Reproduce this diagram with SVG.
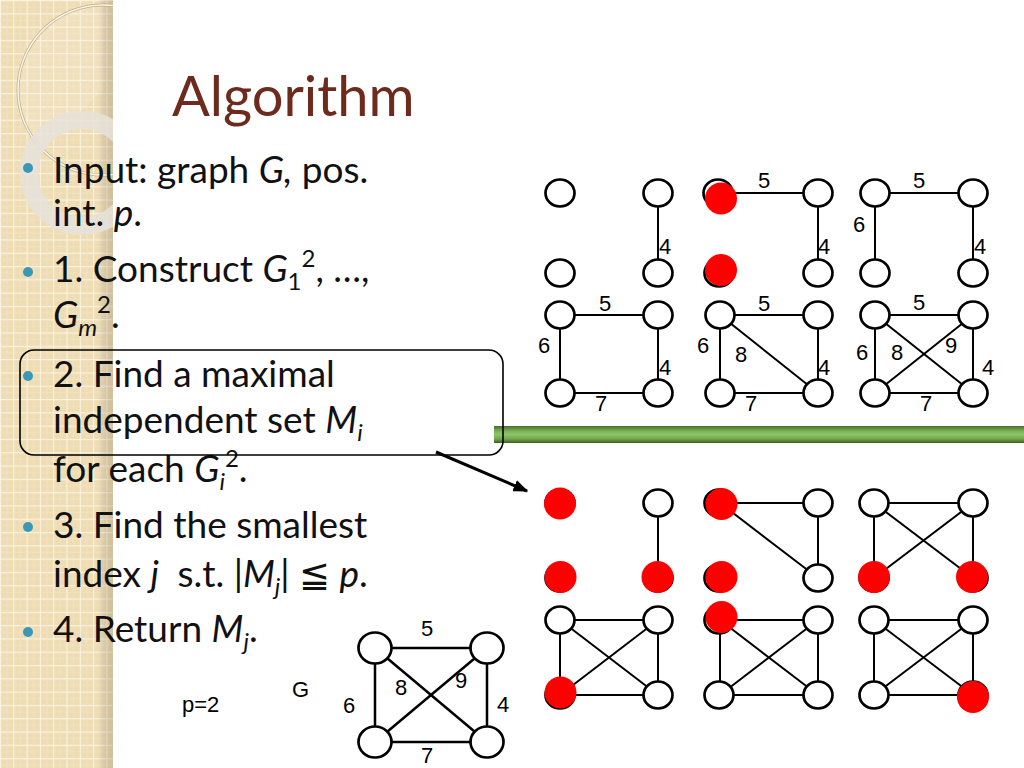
<svg xmlns="http://www.w3.org/2000/svg" width="1024" height="768" viewBox="0 0 1024 768">
<defs>
<pattern id="grid" x="0" y="0" width="13.3" height="13.3" patternUnits="userSpaceOnUse">
<rect width="13.3" height="13.3" fill="#eedcb3"/>
<path d="M0 0.5H13.3M0.5 0V13.3" stroke="#fbf3e2" stroke-width="1.2"/>
<path d="M0 7H13.3M7 0V13.3" stroke="#f4e6c8" stroke-width="0.6"/>
</pattern>
<linearGradient id="shade" x1="0" y1="0" x2="1" y2="0">
<stop offset="0" stop-color="#000" stop-opacity="0"/>
<stop offset="1" stop-color="#7a6a4a" stop-opacity="0.25"/>
</linearGradient>
<linearGradient id="bar" x1="0" y1="0" x2="0" y2="1">
<stop offset="0" stop-color="#4a6b2b"/>
<stop offset="0.3" stop-color="#7db257"/>
<stop offset="0.5" stop-color="#8cc565"/>
<stop offset="0.75" stop-color="#74a84f"/>
<stop offset="1" stop-color="#3d5e24"/>
</linearGradient>
<clipPath id="panelClip"><rect x="0" y="0" width="113" height="768"/></clipPath>
<marker id="arr" viewBox="0 0 10 8" refX="9" refY="4" markerWidth="5" markerHeight="4" orient="auto" markerUnits="strokeWidth">
<path d="M0 0L10 4L0 8z" fill="#000"/>
</marker>
</defs>
<style>
.t{font-family:Lato,"Open Sans","Liberation Sans",sans-serif;font-size:37px;fill:#111}
.i{font-style:italic}
.n{fill:#fff;stroke:#000;stroke-width:2.7}
.e{stroke:#000;stroke-width:2;fill:none}
.r{fill:#ff0000}
.l{font-family:"Liberation Sans",Arial,sans-serif;font-size:22px;fill:#000}
.b{fill:#3b98b4}
</style>
<rect width="1024" height="768" fill="#fff"/>
<g id="panel">
<rect x="0" y="0" width="113" height="768" fill="url(#grid)"/>
<rect x="98" y="0" width="15" height="768" fill="url(#shade)"/>
<g clip-path="url(#panelClip)">
<path d="M103 5 A85 85 0 0 0 40 150 L103 90 Z" fill="#fff" opacity="0.12"/>
<circle cx="103" cy="90" r="85" fill="none" stroke="#bfae88" stroke-width="3"/>
<circle cx="103" cy="90" r="85" fill="none" stroke="#fbf6ea" stroke-width="1.5"/>
<circle cx="82" cy="173" r="53" fill="none" stroke="#e6e2da" stroke-width="18" opacity="0.85"/>
</g>
</g>
<text x="172" y="116" style="font-family:Lato,'Open Sans','Liberation Sans',sans-serif;font-size:56px;fill:#6e2a1c">Algorithm</text>
<g id="bullets">
<circle class="b" cx="28" cy="168" r="5"/>
<circle class="b" cx="28" cy="272" r="5"/>
<circle class="b" cx="28" cy="376" r="5"/>
<circle class="b" cx="28" cy="527" r="5"/>
<circle class="b" cx="28" cy="632" r="5"/>
<text class="t" x="53" y="183">Input: graph <tspan class="i">G,</tspan> pos.</text>
<text class="t" x="53" y="226">int. <tspan class="i">p</tspan>.</text>
<text class="t" x="53" y="282">1. Construct <tspan class="i">G</tspan><tspan font-size="24" dy="8">1</tspan><tspan font-size="24" dy="-23">2</tspan><tspan dy="15">, …,</tspan></text>
<text class="t" x="53" y="328"><tspan class="i">G</tspan><tspan class="i" font-size="24" dy="8">m</tspan><tspan font-size="24" dy="-23">2</tspan><tspan dy="15">.</tspan></text>
<text class="t" x="53" y="387">2. Find a maximal</text>
<text class="t" x="53" y="433">independent set <tspan class="i">M</tspan><tspan class="i" font-size="24" dy="8">i</tspan></text>
<text class="t" x="53" y="482">for each <tspan class="i">G</tspan><tspan class="i" font-size="24" dy="8">i</tspan><tspan font-size="24" dy="-23">2</tspan><tspan dy="15">.</tspan></text>
<text class="t" x="53" y="538">3. Find the smallest</text>
<text class="t" x="53" y="587">index <tspan class="i">j</tspan><tspan dx="9"> s.t. |</tspan><tspan class="i">M</tspan><tspan class="i" font-size="24" dy="8">j</tspan><tspan dy="-8">| ≦ </tspan><tspan class="i">p</tspan>.</text>
<text class="t" x="53" y="642">4. Return <tspan class="i">M</tspan><tspan class="i" font-size="24" dy="8">j</tspan><tspan dy="-8">.</tspan></text>
</g>
<rect id="bar" x="494" y="426" width="530" height="17" fill="url(#bar)"/>
<rect id="box" x="20" y="350" width="483" height="105" rx="14" fill="none" stroke="#000" stroke-width="1.6"/>
<g id="connectors">
<line x1="436" y1="452" x2="527" y2="491" stroke="#000" stroke-width="3" marker-end="url(#arr)"/>
</g>
<!-- Upper section -->
<g id="T1">
<g class="edges"><line class="e" x1="658" y1="193" x2="658" y2="273"/></g>
<ellipse class="n" cx="560" cy="193" rx="14.5" ry="13.5"/>
<ellipse class="n" cx="658" cy="193" rx="14.5" ry="13.5"/>
<ellipse class="n" cx="560" cy="273" rx="14.5" ry="13.5"/>
<ellipse class="n" cx="658" cy="273" rx="14.5" ry="13.5"/>
<text class="l" x="659" y="254">4</text>
</g>
<g id="T2">
<g class="edges"><line class="e" x1="720" y1="193" x2="818" y2="193"/><line class="e" x1="818" y1="193" x2="818" y2="273"/></g>
<ellipse class="n" cx="718" cy="193" rx="14.5" ry="13.5"/>
<ellipse class="n" cx="818" cy="193" rx="14.5" ry="13.5"/>
<ellipse class="n" cx="719" cy="273" rx="14.5" ry="13.5"/>
<ellipse class="n" cx="818" cy="273" rx="14.5" ry="13.5"/>
<circle class="r" cx="721" cy="198.5" r="16"/>
<circle class="r" cx="721" cy="270" r="16"/>
<text class="l" x="758" y="188">5</text>
<text class="l" x="818" y="254">4</text>
</g>
<g id="T3">
<g class="edges"><line class="e" x1="875" y1="193" x2="973" y2="193"/><line class="e" x1="875" y1="193" x2="875" y2="273"/><line class="e" x1="973" y1="193" x2="973" y2="273"/></g>
<ellipse class="n" cx="875" cy="193" rx="14.5" ry="13.5"/>
<ellipse class="n" cx="973" cy="193" rx="14.5" ry="13.5"/>
<ellipse class="n" cx="875" cy="273" rx="14.5" ry="13.5"/>
<ellipse class="n" cx="973" cy="273" rx="14.5" ry="13.5"/>
<text class="l" x="913" y="188">5</text>
<text class="l" x="853" y="232">6</text>
<text class="l" x="974" y="254">4</text>
</g>
<g id="T4">
<g class="edges"><path class="e" d="M560 315H658V393H560Z"/></g>
<ellipse class="n" cx="560" cy="315" rx="14.5" ry="13.5"/>
<ellipse class="n" cx="658" cy="315" rx="14.5" ry="13.5"/>
<ellipse class="n" cx="560" cy="393" rx="14.5" ry="13.5"/>
<ellipse class="n" cx="658" cy="393" rx="14.5" ry="13.5"/>
<text class="l" x="599" y="311">5</text>
<text class="l" x="538" y="353">6</text>
<text class="l" x="659" y="375">4</text>
<text class="l" x="595" y="411">7</text>
</g>
<g id="T5">
<g class="edges"><path class="e" d="M720 315H818V393H720Z"/><line class="e" x1="720" y1="315" x2="818" y2="393"/></g>
<ellipse class="n" cx="720" cy="315" rx="14.5" ry="13.5"/>
<ellipse class="n" cx="818" cy="315" rx="14.5" ry="13.5"/>
<ellipse class="n" cx="720" cy="393" rx="14.5" ry="13.5"/>
<ellipse class="n" cx="818" cy="393" rx="14.5" ry="13.5"/>
<text class="l" x="758" y="311">5</text>
<text class="l" x="697" y="353">6</text>
<text class="l" x="735" y="362">8</text>
<text class="l" x="818" y="375">4</text>
<text class="l" x="745" y="411">7</text>
</g>
<g id="T6">
<g class="edges"><path class="e" d="M875 315H973V393H875Z"/><line class="e" x1="875" y1="315" x2="973" y2="393"/><line class="e" x1="973" y1="315" x2="875" y2="393"/></g>
<ellipse class="n" cx="875" cy="315" rx="14.5" ry="13.5"/>
<ellipse class="n" cx="973" cy="315" rx="14.5" ry="13.5"/>
<ellipse class="n" cx="875" cy="393" rx="14.5" ry="13.5"/>
<ellipse class="n" cx="973" cy="393" rx="14.5" ry="13.5"/>
<text class="l" x="913" y="310">5</text>
<text class="l" x="856" y="360">6</text>
<text class="l" x="891" y="360">8</text>
<text class="l" x="945" y="353">9</text>
<text class="l" x="982" y="375">4</text>
<text class="l" x="920" y="411">7</text>
</g>
<!-- Lower section -->
<g id="B1">
<g class="edges"><line class="e" x1="658" y1="503" x2="658" y2="578"/></g>
<ellipse class="n" cx="560" cy="503" rx="14.5" ry="13.5"/>
<ellipse class="n" cx="658" cy="503" rx="14.5" ry="13.5"/>
<ellipse class="n" cx="560" cy="578" rx="14.5" ry="13.5"/>
<ellipse class="n" cx="658" cy="578" rx="14.5" ry="13.5"/>
<circle class="r" cx="560" cy="503.5" r="16"/>
<circle class="r" cx="560.5" cy="577" r="16"/>
<circle class="r" cx="657.5" cy="577" r="16"/>
</g>
<g id="B2">
<g class="edges"><line class="e" x1="720" y1="503" x2="818" y2="503"/><line class="e" x1="818" y1="503" x2="818" y2="578"/><line class="e" x1="720" y1="503" x2="818" y2="578"/></g>
<ellipse class="n" cx="719" cy="503" rx="14.5" ry="13.5"/>
<ellipse class="n" cx="818" cy="503" rx="14.5" ry="13.5"/>
<ellipse class="n" cx="719" cy="578" rx="14.5" ry="13.5"/>
<ellipse class="n" cx="818" cy="578" rx="14.5" ry="13.5"/>
<circle class="r" cx="721.5" cy="504" r="16"/>
<circle class="r" cx="721.5" cy="577" r="16"/>
</g>
<g id="B3">
<g class="edges"><line class="e" x1="874" y1="503" x2="973" y2="503"/><line class="e" x1="874" y1="503" x2="874" y2="578"/><line class="e" x1="973" y1="503" x2="973" y2="578"/><line class="e" x1="874" y1="503" x2="973" y2="578"/><line class="e" x1="973" y1="503" x2="874" y2="578"/></g>
<ellipse class="n" cx="874" cy="503" rx="14.5" ry="13.5"/>
<ellipse class="n" cx="973" cy="503" rx="14.5" ry="13.5"/>
<ellipse class="n" cx="874" cy="578" rx="14.5" ry="13.5"/>
<ellipse class="n" cx="973" cy="578" rx="14.5" ry="13.5"/>
<circle class="r" cx="874" cy="577" r="16"/>
<circle class="r" cx="972" cy="577" r="16"/>
</g>
<g id="B4">
<g class="edges"><path class="e" d="M560 620H658V695H560Z"/><line class="e" x1="560" y1="620" x2="658" y2="695"/><line class="e" x1="658" y1="620" x2="560" y2="695"/></g>
<ellipse class="n" cx="560" cy="620" rx="14.5" ry="13.5"/>
<ellipse class="n" cx="658" cy="620" rx="14.5" ry="13.5"/>
<ellipse class="n" cx="560" cy="695" rx="14.5" ry="13.5"/>
<ellipse class="n" cx="658" cy="695" rx="14.5" ry="13.5"/>
<circle class="r" cx="560.5" cy="692.5" r="16"/>
</g>
<g id="B5">
<g class="edges"><path class="e" d="M720 620H818V695H720Z"/><line class="e" x1="720" y1="620" x2="818" y2="695"/><line class="e" x1="818" y1="620" x2="720" y2="695"/></g>
<ellipse class="n" cx="719" cy="620" rx="14.5" ry="13.5"/>
<ellipse class="n" cx="818" cy="620" rx="14.5" ry="13.5"/>
<ellipse class="n" cx="719" cy="695" rx="14.5" ry="13.5"/>
<ellipse class="n" cx="818" cy="695" rx="14.5" ry="13.5"/>
<circle class="r" cx="721.5" cy="617" r="16"/>
</g>
<g id="B6">
<g class="edges"><path class="e" d="M874 620H973V695H874Z"/><line class="e" x1="874" y1="620" x2="973" y2="695"/><line class="e" x1="973" y1="620" x2="874" y2="695"/></g>
<ellipse class="n" cx="874" cy="620" rx="14.5" ry="13.5"/>
<ellipse class="n" cx="973" cy="620" rx="14.5" ry="13.5"/>
<ellipse class="n" cx="874" cy="695" rx="14.5" ry="13.5"/>
<ellipse class="n" cx="973" cy="695" rx="14.5" ry="13.5"/>
<circle class="r" cx="973" cy="697" r="16"/>
</g>
<!-- Input graph G -->
<g id="G">
<g class="edges" stroke="#000" stroke-width="2.5">
<path d="M375 648H487V742H375Z" fill="none"/>
<line x1="375" y1="648" x2="487" y2="742"/>
<line x1="487" y1="648" x2="375" y2="742"/>
</g>
<ellipse class="n" cx="375" cy="648" rx="16.5" ry="15.5" stroke-width="3"/>
<ellipse class="n" cx="487" cy="648" rx="16.5" ry="15.5" stroke-width="3"/>
<ellipse class="n" cx="375" cy="742" rx="16.5" ry="15.5" stroke-width="3"/>
<ellipse class="n" cx="487" cy="742" rx="16.5" ry="15.5" stroke-width="3"/>
<text class="l" x="421" y="636">5</text>
<text class="l" x="343" y="713">6</text>
<text class="l" x="395" y="695">8</text>
<text class="l" x="455" y="688">9</text>
<text class="l" x="497" y="712">4</text>
<text class="l" x="421" y="763">7</text>
</g>
<text class="l" x="292" y="697">G</text>
<text class="l" x="182" y="712">p=2</text>
</svg>
